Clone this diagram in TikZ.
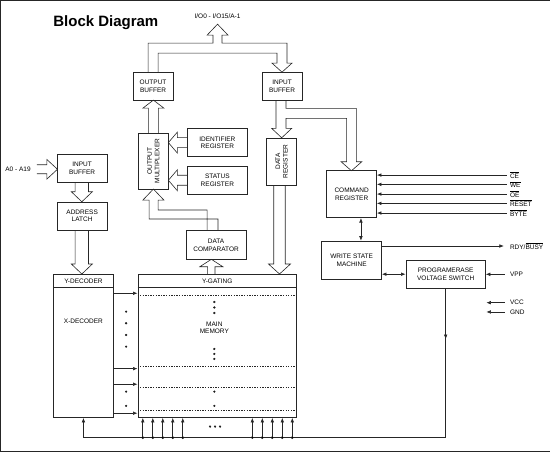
\documentclass[tikz,border=0pt]{standalone}
\usepackage{fontspec}
\setmainfont{Liberation Sans}
\usetikzlibrary{arrows.meta}
\newcommand\smallfnt{\fontsize{6.5}{7.6}\selectfont}
% vertical hollow bus arrow: cx, start y, tip y, half shaft, half head, head base y
\newcommand\busV[6]{\draw[bus] ({#1-#4},#2) -- ({#1-#4},#6) -- ({#1-#5},#6) -- (#1,#3) -- ({#1+#5},#6) -- ({#1+#4},#6) -- ({#1+#4},#2);}
% horizontal hollow bus arrow: cy, start x, tip x, half shaft, half head, head base x
\newcommand\busH[6]{\draw[bus] (#2,{#1-#4}) -- (#6,{#1-#4}) -- (#6,{#1-#5}) -- (#3,#1) -- (#6,{#1+#5}) -- (#6,{#1+#4}) -- (#2,{#1+#4});}
\begin{document}
\begin{tikzpicture}[x=1pt,y=-1pt,
  every path/.style={draw=black!85},
  box/.style={draw=black!85, line width=0.6pt, align=center, inner sep=0pt, font=\smallfnt},
  lbl/.style={inner sep=0pt, font=\smallfnt, anchor=west},
  bus/.style={line width=0.6pt, line join=miter},
  line/.style={line width=0.6pt},
  sig/.style={line width=0.6pt, -{Latex[length=4.5pt,width=3.6pt]}},
  dsig/.style={line width=0.6pt, {Latex[length=4.5pt,width=3.6pt]}-{Latex[length=4.5pt,width=3.6pt]}},
  dots/.style={line width=0.6pt, dash pattern=on 1.3pt off 1.3pt}]
\useasboundingbox (0,0) rectangle (550,451);

% title and top label
\node[anchor=base west, inner sep=0pt, font=\bfseries\fontsize{15}{18}\selectfont] (title) at (53,26) {Block Diagram};
\node[inner sep=0pt, font=\smallfnt] (io) at (217.5,16) {I/O0 - I/O15/A-1};

% boxes
\node[box, minimum width=40, minimum height=28] (ob) at (153,86) {OUTPUT\\BUFFER};
\node[box, minimum width=40, minimum height=28] (ib) at (282,86) {INPUT\\BUFFER};
\node[box, minimum width=30, minimum height=56] (mux) at (153.3,161) {};
\node[rotate=90, align=center, inner sep=0pt, font=\smallfnt] (muxt) at (mux) {OUTPUT\\MULTIPLEXER};
\node[box, minimum width=60, minimum height=28.4] (idr) at (217.3,142.5) {IDENTIFIER\\REGISTER};
\node[box, minimum width=60, minimum height=28.3] (str) at (217.3,180.2) {STATUS\\REGISTER};
\node[box, minimum width=60, minimum height=28.6] (dc) at (216,245) {DATA\\COMPARATOR};
\node[box, minimum width=30, minimum height=47.3] (dr) at (281.7,161.4) {};
\node[rotate=90, align=center, inner sep=0pt, font=\smallfnt] (drt) at (dr) {DATA\\REGISTER};
\node[box, minimum width=50, minimum height=47] (cr) at (351.7,194.2) {COMMAND\\REGISTER};
\node[box, minimum width=60, minimum height=38] (wsm) at (351.7,260) {WRITE STATE\\MACHINE};
\node[box, minimum width=79.7, minimum height=28.3] (pe) at (445.8,274.2) {PROGRAMERASE\\VOLTAGE SWITCH};
\node[box, minimum width=49.4, minimum height=28.4] (lib) at (82,168.5) {INPUT\\BUFFER};
\node[box, minimum width=49.4, minimum height=28.3] (al) at (82,215.9) {ADDRESS\\LATCH};
\node[lbl] (addr) at (5,169.3) {A0 - A19};

% decoder and memory array
\node[box, minimum width=60, minimum height=143.7] (xd) at (83.3,345.85) {};
\draw[line width=1pt] (xd.west |- 0,288) -- (xd.east |- 0,288);
\node[inner sep=0pt, font=\smallfnt] (ydt) at (83.3,281) {Y-DECODER};
\node[inner sep=0pt, font=\smallfnt] (xdt) at (83.3,321.7) {X-DECODER};
\node[box, minimum width=159, minimum height=143.7] (mm) at (217.2,345.85) {};
\draw[line] (mm.west |- 0,287.5) -- (mm.east |- 0,287.5);
\node[inner sep=0pt, font=\smallfnt] (ygt) at (217.2,281) {Y-GATING};
\node[inner sep=0pt, font=\smallfnt, align=center] (mmt) at (214.3,327.7) {MAIN\\MEMORY};
\foreach \y in {295,366,387.3,410.7} \draw[dots] (mm.west |- 0,\y) -- (mm.east |- 0,\y);
\foreach \y in {302,307.5,313,349,354,359,391.7,406} \fill (214.3,\y) circle (0.9);
\foreach \y in {293.3,368.7,384.3,413.3} \draw[sig] (xd.east |- 0,\y) -- (mm.west |- 0,\y);
\foreach \y in {311.7,323.3,335,346.7,391.7,406} \fill (126,\y) circle (0.9);

% hollow bus arrows
\draw[bus] (ob.north -| 148,0) -- (148,43) -- (213,43) -- (213,35) -- (207,35) -- (217.5,24) -- (228,35) -- (222,35) -- (222,43) -- (287,43) -- (287,63) -- (292,63) -- (282,72) -- (272,63) -- (277,63) -- (277,53) -- (158,53) -- (ob.north -| 158,0);
\busV{153.3}{133}{100}{5}{10.5}{108}
\busH{142.5}{187.3}{168.3}{5}{10.5}{177.3}
\busH{180.2}{187.3}{168.3}{5}{10.5}{177.3}
\draw[bus] (dc.north -| 218,0) -- (218,219) -- (149,219) -- (149,200) -- (142.8,200) -- (153.3,189) -- (163.8,200) -- (158,200) -- (158,210) -- (207,210) -- (dc.north -| 207,0);
\busV{211.3}{274}{259.3}{3.7}{11.5}{266.7}
\draw[bus] (ib.south -| 276,0) -- (276,128.3) -- (271.7,128.3) -- (281.7,137.7) -- (291.7,128.3) -- (286,128.3) -- (286,118.3) -- (346.7,118.3) -- (346.7,161.7) -- (341.2,161.7) -- (351.5,170.7) -- (361.8,161.7) -- (356.5,161.7) -- (356.5,108.3) -- (286,108.3) -- (ib.south -| 286,0);
\busV{279.5}{185}{274}{5.8}{11}{264}
\busH{169.2}{36.7}{57.3}{4.5}{9.8}{46.7}
\busV{81.7}{182.7}{201.7}{6.7}{10.5}{191.7}
\busV{81.7}{230}{274}{6.7}{10.5}{264}

% control signals
\node[lbl] (ce) at (510,175) {$\overline{\mbox{CE}}$};
\node[lbl] (we) at (510,184.3) {$\overline{\mbox{WE}}$};
\node[lbl] (oe) at (510,194) {$\overline{\mbox{OE}}$};
\node[lbl] (rst) at (510,203.3) {$\overline{\mbox{RESET}}$};
\node[lbl] (byte) at (510,213) {$\overline{\mbox{BYTE}}$};
\foreach \n in {ce,we,oe,rst,byte} \draw[sig] ([xshift=-3.3pt]\n.west) -- (cr.east |- \n.west);
\node[lbl] (rdy) at (510,246) {RDY/$\overline{\mbox{BUSY}}$};
\draw[sig] (wsm.east |- rdy.west) -- ([xshift=-6pt]rdy.west);
\node[lbl] (vpp) at (510,274.3) {VPP};
\draw[sig] ([xshift=-5pt]vpp.west) -- (pe.east |- vpp.west);
\node[lbl] (vcc) at (510,302.7) {VCC};
\node[lbl] (gnd) at (510,312) {GND};
\draw[sig] ([xshift=-5pt]vcc.west) -- ++(-18.5,0);
\draw[sig] ([xshift=-5pt]gnd.west) -- ++(-18.5,0);
\draw[dsig] ([xshift=9.3pt]cr.south) -- ([xshift=9.3pt]cr.south |- wsm.north);
\draw[dsig] (wsm.east |- pe.west) -- (pe.west);

% bottom feed
\coordinate (br) at (445.8,437.7);
\coordinate (bl) at (83.3,437.7);
\draw[line] (pe.south) -- (br) -- (bl);
\draw[sig] (pe.south) -- ++(0,50.5);
\draw[sig] (bl) -- (xd.south);
\foreach \x in {142.7,152.7,162.7,172.7,182.7,252.3,262.3,272.3,282.3,292.3} {
  \draw[sig] (\x,437.7) -- (mm.south -| \x,0);
  \fill (\x,437.7) circle (1.2);
}
\foreach \x in {210,215,220} \fill (\x,426.7) circle (0.9);
\end{tikzpicture}
\end{document}
